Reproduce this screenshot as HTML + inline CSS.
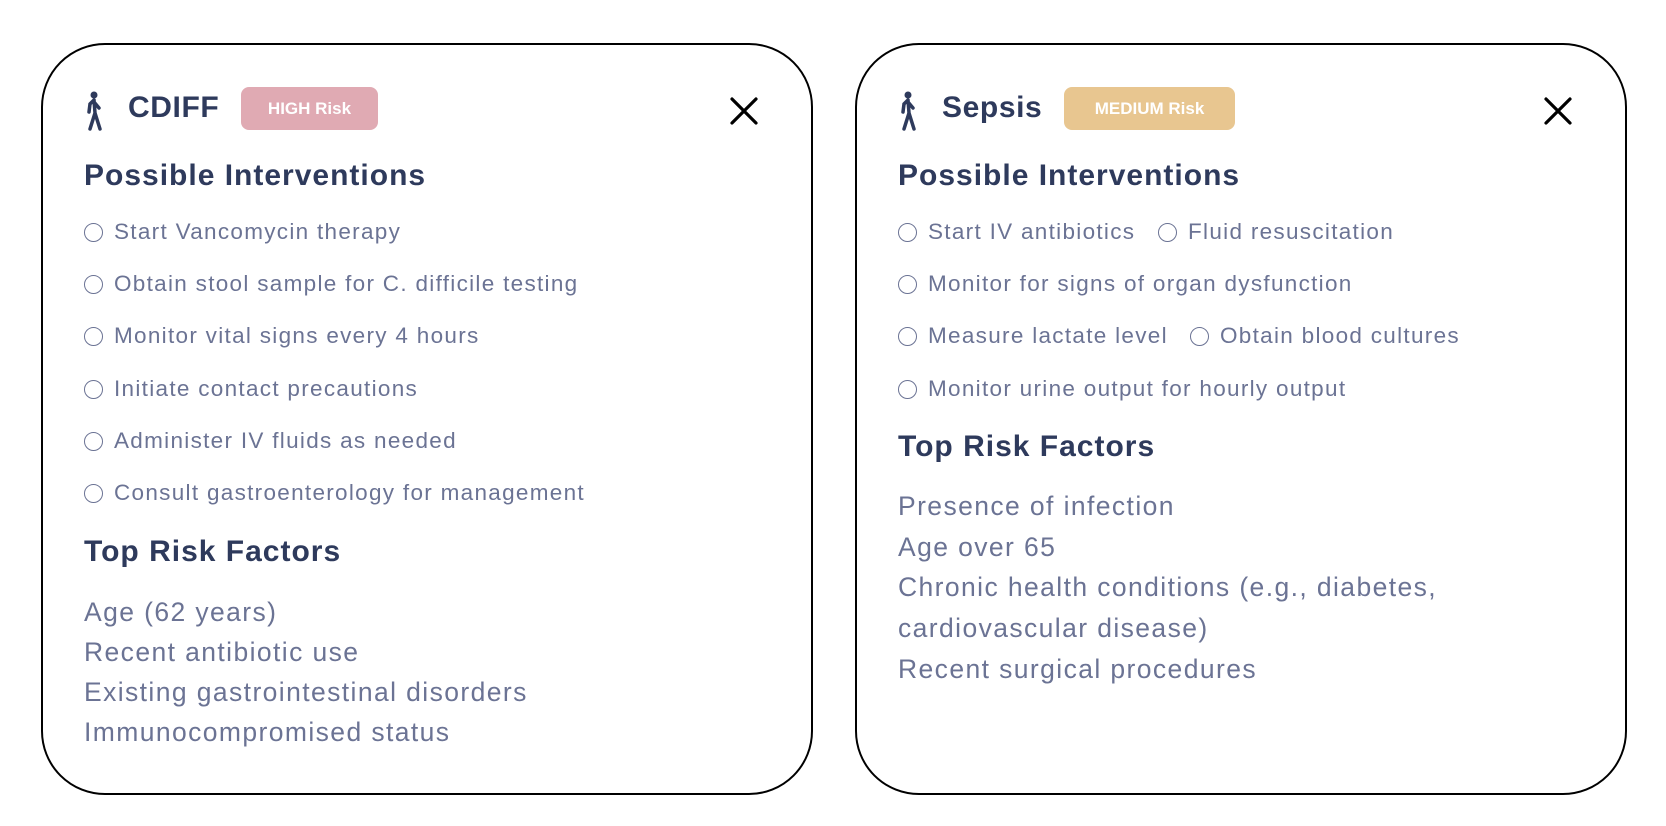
<!DOCTYPE html>
<html><head><meta charset="utf-8">
<style>
*{margin:0;padding:0;box-sizing:border-box}
body{width:1666px;height:826px;background:#fff;position:relative;overflow:hidden;font-family:"Liberation Sans",sans-serif}
.card{position:absolute;top:43px;width:772px;height:752px;border:2px solid #000;border-radius:64px;background:#fff}
.abs{position:absolute;white-space:nowrap}
.title{font-size:30px;font-weight:bold;color:#2e3a5c;line-height:34px;letter-spacing:0.6px}
.badge{position:absolute;top:42px;height:43px;border-radius:8px;color:#fff;font-weight:bold;font-size:17px;line-height:43px;text-align:center}
.h2{font-size:30px;font-weight:bold;color:#2e3a5c;line-height:34px;letter-spacing:1px}
.item{font-size:22.5px;color:#6b7394;line-height:26px;display:flex;align-items:center;letter-spacing:1.3px}
.item .c{width:19px;height:19px;border:1.6px solid #6b7394;border-radius:50%;margin-right:11px;flex:none}
.rf{font-size:26.5px;color:#6b7394;line-height:30px;letter-spacing:1.4px}
.close{position:absolute;width:30px;height:30px}
</style></head><body>

<div class="card" style="left:41px">
  <svg class="abs" style="left:40px;top:46px" width="22" height="40" viewBox="0 0 22 40"><circle cx="11" cy="4" r="3.5" fill="#2e3a5c"/><path d="M11 9 L7 13 L6 21 M11 9 L12 22 L7 38 M12 22 L17 38 M11 11 L16 17" stroke="#2e3a5c" stroke-width="3.5" fill="none" stroke-linecap="round"/></svg>
  <div class="abs title" style="left:85px;top:46px">CDIFF</div>
  <div class="badge" style="left:198px;width:137px;background:#e0aab3">HIGH Risk</div>
  <svg class="close" style="left:686px;top:51px" viewBox="0 0 30 30"><path d="M3 3L27 27M27 3L3 27" stroke="#000" stroke-width="3.2" stroke-linecap="round"/></svg>
  <div class="abs h2" style="left:41px;top:114px">Possible Interventions</div>
  <div class="abs item" style="left:41px;top:174px"><span class="c"></span>Start Vancomycin therapy</div>
  <div class="abs item" style="left:41px;top:226px"><span class="c"></span>Obtain stool sample for C. difficile testing</div>
  <div class="abs item" style="left:41px;top:278px"><span class="c"></span>Monitor vital signs every 4 hours</div>
  <div class="abs item" style="left:41px;top:331px"><span class="c"></span>Initiate contact precautions</div>
  <div class="abs item" style="left:41px;top:383px"><span class="c"></span>Administer IV fluids as needed</div>
  <div class="abs item" style="left:41px;top:435px"><span class="c"></span>Consult gastroenterology for management</div>
  <div class="abs h2" style="left:41px;top:490px">Top Risk Factors</div>
  <div class="abs rf" style="left:41px;top:552px">Age (62 years)</div>
  <div class="abs rf" style="left:41px;top:592px">Recent antibiotic use</div>
  <div class="abs rf" style="left:41px;top:632px">Existing gastrointestinal disorders</div>
  <div class="abs rf" style="left:41px;top:672px">Immunocompromised status</div>
</div>

<div class="card" style="left:855px">
  <svg class="abs" style="left:40px;top:46px" width="22" height="40" viewBox="0 0 22 40"><circle cx="11" cy="4" r="3.5" fill="#2e3a5c"/><path d="M11 9 L7 13 L6 21 M11 9 L12 22 L7 38 M12 22 L17 38 M11 11 L16 17" stroke="#2e3a5c" stroke-width="3.5" fill="none" stroke-linecap="round"/></svg>
  <div class="abs title" style="left:85px;top:46px">Sepsis</div>
  <div class="badge" style="left:207px;width:171px;background:#e8c690">MEDIUM Risk</div>
  <svg class="close" style="left:686px;top:51px" viewBox="0 0 30 30"><path d="M3 3L27 27M27 3L3 27" stroke="#000" stroke-width="3.2" stroke-linecap="round"/></svg>
  <div class="abs h2" style="left:41px;top:114px">Possible Interventions</div>
  <div class="abs item" style="left:41px;top:174px"><span class="c"></span>Start IV antibiotics</div>
  <div class="abs item" style="left:301px;top:174px"><span class="c"></span>Fluid resuscitation</div>
  <div class="abs item" style="left:41px;top:226px"><span class="c"></span>Monitor for signs of organ dysfunction</div>
  <div class="abs item" style="left:41px;top:278px"><span class="c"></span>Measure lactate level</div>
  <div class="abs item" style="left:333px;top:278px"><span class="c"></span>Obtain blood cultures</div>
  <div class="abs item" style="left:41px;top:331px"><span class="c"></span>Monitor urine output for hourly output</div>
  <div class="abs h2" style="left:41px;top:385px">Top Risk Factors</div>
  <div class="abs rf" style="left:41px;top:446px">Presence of infection</div>
  <div class="abs rf" style="left:41px;top:487px">Age over 65</div>
  <div class="abs rf" style="left:41px;top:527px">Chronic health conditions (e.g., diabetes,</div>
  <div class="abs rf" style="left:41px;top:568px">cardiovascular disease)</div>
  <div class="abs rf" style="left:41px;top:609px">Recent surgical procedures</div>
</div>
</body></html>
